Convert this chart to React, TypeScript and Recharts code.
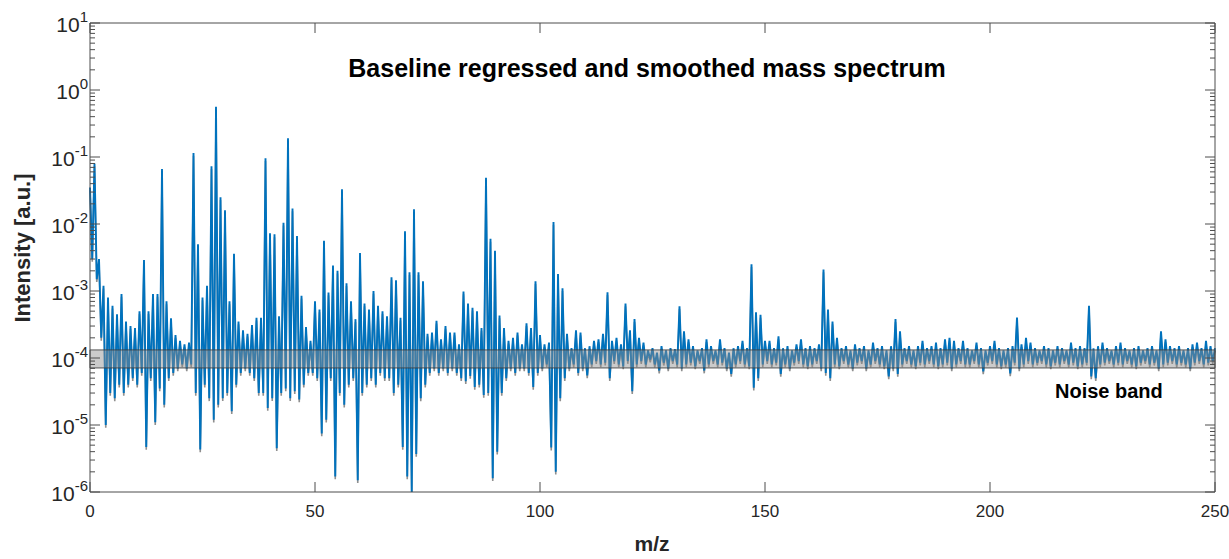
import React from 'react';
import { LineChart, Line, XAxis, YAxis, ReferenceArea } from 'recharts';

// m/z sampling step of the spectrum (one value every 0.5 m/z, from 0 to 250)
const mzStep = 0.5;

// Baseline regressed and smoothed spectrum intensities [a.u.]
const intensity: number[] = [
  3.5e-2, 3e-3, 8e-2, 1.5e-3, 3e-3, 2e-4, 1.2e-3, 1e-5, 8e-4, 3e-5,
  6e-4, 2.5e-5, 4.5e-4, 4e-5, 9e-4, 3e-5, 3.5e-4, 4e-5, 3e-4, 5e-5,
  2.8e-4, 4e-5, 5e-4, 6e-5, 2.9e-3, 4.7e-6, 5e-4, 5e-5, 9e-4, 1.1e-5,
  9e-4, 3.5e-5, 6.6e-2, 2e-5, 7e-4, 5e-5, 3.9e-4, 6e-5, 2.2e-4, 7e-5,
  1.8e-4, 8e-5, 1.6e-4, 7e-5, 1.7e-4, 8e-5, 1.15e-1, 3e-5, 5e-3, 4.3e-6,
  8e-4, 4e-5, 1.2e-3, 2.5e-5, 7.3e-2, 1.2e-5, 5.6e-1, 2e-5, 2.5e-2, 2.5e-5,
  1.6e-2, 3e-5, 7e-4, 1.6e-5, 3.6e-3, 4e-5, 3.5e-4, 6e-5, 2.6e-4, 7e-5,
  2.3e-4, 6e-5, 3.1e-4, 5e-5, 4e-4, 3e-5, 4e-4, 3e-5, 9.6e-2, 1.8e-5,
  7.3e-3, 2.5e-5, 7e-3, 4.5e-6, 4.2e-4, 3e-5, 1.04e-2, 3.5e-5, 1.9e-1, 2.5e-5,
  1.7e-2, 3.2e-5, 6.6e-3, 2.4e-5, 8.5e-4, 4e-5, 2.9e-4, 6e-5, 1.8e-4, 6e-5,
  7e-4, 5e-5, 5.3e-4, 7.5e-6, 5.6e-3, 1.2e-5, 9.5e-4, 5e-5, 2.4e-3, 1.7e-6,
  2e-3, 3e-5, 3.3e-2, 2e-5, 1.3e-3, 4e-5, 7e-4, 5e-5, 3.8e-4, 1.5e-6,
  3.7e-3, 3e-5, 6.5e-4, 4e-5, 5.3e-4, 5e-5, 1e-3, 4e-5, 6e-4, 6e-5,
  5e-4, 5e-5, 4.2e-4, 5e-5, 1.6e-3, 3e-5, 1.45e-3, 4e-5, 4e-4, 4.7e-6,
  7.8e-3, 1.7e-6, 1.9e-3, 1e-6, 1.66e-2, 3.7e-6, 1.9e-3, 2.5e-5, 1.4e-3, 4e-5,
  2.3e-4, 6e-5, 2.4e-4, 7e-5, 3.6e-4, 6e-5, 1.9e-4, 7e-5, 3e-4, 6e-5,
  2.4e-4, 7e-5, 2.4e-4, 6e-5, 1.6e-4, 5e-5, 9.8e-4, 4.5e-5, 6.5e-4, 5.4e-5,
  5.6e-4, 3.7e-5, 5e-4, 4e-5, 2.8e-4, 2.8e-5, 4.9e-2, 3e-5, 6e-3, 1.6e-6,
  4e-3, 4e-6, 4.3e-4, 3e-5, 2.8e-4, 5e-5, 1.8e-4, 7e-5, 2e-4, 6e-5,
  2.4e-4, 7e-5, 1.6e-4, 7e-5, 3.3e-4, 6e-5, 2.8e-4, 3.7e-5, 1.4e-3, 6e-5,
  2.2e-4, 7e-5, 1.6e-4, 8e-5, 1.7e-4, 4.6e-6, 1.07e-2, 2e-6, 1.8e-3, 2.5e-5,
  1.1e-3, 5e-5, 2.3e-4, 7e-5, 1.4e-4, 8e-5, 2.6e-4, 6e-5, 2.4e-4, 7e-5,
  1.4e-4, 5.5e-5, 1.5e-4, 8e-5, 1.8e-4, 9e-5, 1.9e-4, 8e-5, 2.3e-4, 8.5e-5,
  9.6e-4, 5e-5, 1.8e-4, 9e-5, 2e-4, 8e-5, 1.6e-4, 7.5e-5, 6.5e-4, 9e-5,
  2.6e-4, 3.2e-5, 3.8e-4, 8e-5, 2e-4, 9e-5, 1.7e-4, 8e-5, 1.3e-4, 9.5e-5,
  1.4e-4, 8e-5, 1.2e-4, 6.5e-5, 1.5e-4, 8.5e-5, 1.3e-4, 7e-5, 1.4e-4, 9e-5,
  1.35e-4, 8e-5, 5.9e-4, 7e-5, 2.5e-4, 8e-5, 1.9e-4, 8.5e-5, 1.5e-4, 7.5e-5,
  1.3e-4, 9e-5, 1.4e-4, 6.5e-5, 1.9e-4, 8e-5, 1.5e-4, 9e-5, 1.3e-4, 8e-5,
  1.9e-4, 8.5e-5, 1.4e-4, 7e-5, 1.2e-4, 5.8e-5, 1.4e-4, 8e-5, 1.5e-4, 9e-5,
  1.8e-4, 8e-5, 1.4e-4, 7.5e-5, 2.5e-3, 3.6e-5, 4.8e-4, 5e-5, 4.4e-4, 8e-5,
  1.8e-4, 9e-5, 1.8e-4, 8e-5, 1.4e-4, 8.5e-5, 2.1e-4, 5.8e-5, 1.4e-4, 8e-5,
  1.5e-4, 7e-5, 1.3e-4, 8.5e-5, 1.6e-4, 9e-5, 1.9e-4, 8e-5, 1.4e-4, 7.5e-5,
  1.5e-4, 8e-5, 1.4e-4, 9e-5, 1.6e-4, 7e-5, 2.1e-3, 6e-5, 5.3e-4, 5e-5,
  3.5e-4, 8e-5, 2e-4, 7.5e-5, 1.4e-4, 9e-5, 1.5e-4, 8e-5, 1.3e-4, 7e-5,
  1.6e-4, 8.5e-5, 1.4e-4, 9e-5, 1.5e-4, 7e-5, 1.3e-4, 8e-5, 1.7e-4, 9e-5,
  1.4e-4, 8e-5, 1.5e-4, 7.5e-5, 1.3e-4, 5.3e-5, 1.5e-4, 7e-5, 3.8e-4, 5.8e-5,
  2.5e-4, 8e-5, 1.4e-4, 9e-5, 1.5e-4, 8e-5, 1.3e-4, 7.5e-5, 1.5e-4, 8.5e-5,
  1.8e-4, 8e-5, 1.4e-4, 9e-5, 1.5e-4, 8e-5, 1.7e-4, 7.5e-5, 1.4e-4, 8e-5,
  1.9e-4, 8.5e-5, 2e-4, 7e-5, 1.8e-4, 8e-5, 1.4e-4, 9e-5, 1.8e-4, 8e-5,
  1.4e-4, 8e-5, 1.3e-4, 9e-5, 1.7e-4, 8e-5, 1.4e-4, 6.3e-5, 1.3e-4, 8.5e-5,
  1.5e-4, 9e-5, 1.8e-4, 8e-5, 1.4e-4, 7.5e-5, 1.3e-4, 8e-5, 1.4e-4, 5.9e-5,
  1.5e-4, 8.5e-5, 4e-4, 7e-5, 1.6e-4, 8e-5, 2e-4, 9e-5, 1.7e-4, 8e-5,
  1.4e-4, 8.5e-5, 1.3e-4, 9e-5, 1.5e-4, 8e-5, 1.4e-4, 7.5e-5, 1.3e-4, 8.5e-5,
  1.5e-4, 8e-5, 1.4e-4, 9e-5, 1.3e-4, 8e-5, 1.7e-4, 8.5e-5, 1.4e-4, 7.5e-5,
  1.5e-4, 8e-5, 1.4e-4, 8.5e-5, 6e-4, 5.3e-5, 1.4e-4, 5e-5, 1.5e-4, 8e-5,
  1.7e-4, 8.5e-5, 1.4e-4, 9e-5, 1.3e-4, 8e-5, 1.5e-4, 8.5e-5, 1.7e-4, 8e-5,
  1.4e-4, 9e-5, 1.3e-4, 8e-5, 1.4e-4, 7.5e-5, 1.5e-4, 8.5e-5, 1.3e-4, 9e-5,
  1.4e-4, 8e-5, 1.5e-4, 8.5e-5, 1.3e-4, 7e-5, 2.5e-4, 8e-5, 1.9e-4, 8.5e-5,
  1.5e-4, 9e-5, 1.4e-4, 8e-5, 1.5e-4, 8.5e-5, 1.3e-4, 8e-5, 1.4e-4, 7e-5,
  1.6e-4, 8.5e-5, 1.7e-4, 9e-5, 1.4e-4, 8e-5, 1.8e-4, 8.5e-5, 1.5e-4, 9e-5,
  1.4e-4,
];

// Noise band limits [a.u.]
const noiseBandLow = 7.1e-5;
const noiseBandHigh = 1.32e-4;

// Axis ticks
const xTicks = [0, 50, 100, 150, 200, 250];
const yDecadeExponents = [-6, -5, -4, -3, -2, -1, 0, 1];
const yMinorMultipliers = [2, 3, 4, 5, 6, 7, 8, 9];

// Texts
const titleText = 'Baseline regressed and smoothed mass spectrum';
const bandText = 'Noise band';
const xLabelText = 'm/z';
const yLabelText = 'Intensity [a.u.]';

const data = intensity.map((v, i) => ({ mz: i * mzStep, intensity: v }));

const yAllTicks: number[] = [];
yDecadeExponents.forEach((e, idx) => {
  yAllTicks.push(Math.pow(10, e));
  if (idx < yDecadeExponents.length - 1) {
    yMinorMultipliers.forEach((m) => yAllTicks.push(m * Math.pow(10, e)));
  }
});

const FONT = '"Liberation Sans", Arial, Helvetica, sans-serif';
const AXIS = '#4d4d4d';
const TEXT = '#262626';
const MAJOR = 10;
const MINOR = 5;

const isMajor = (v: number) => {
  const l = Math.log10(v);
  return Math.abs(l - Math.round(l)) < 1e-6;
};

const LeftTick = (props: any) => {
  const { x, y, payload } = props;
  const v = payload.value;
  const major = isMajor(v);
  const e = Math.round(Math.log10(v));
  return (
    <g>
      <line x1={x} x2={x + (major ? MAJOR : MINOR)} y1={y} y2={y} stroke={AXIS} strokeWidth={1} />
      {major && (
        <text x={x - 2} y={y + 9} textAnchor="end" fontSize={21} fill={TEXT} fontFamily={FONT}>
          <tspan>10</tspan>
          <tspan dy={-10} fontSize={15}>{String(e)}</tspan>
        </text>
      )}
    </g>
  );
};

const RightTick = (props: any) => {
  const { x, y, payload } = props;
  const major = isMajor(payload.value);
  return <line x1={x} x2={x - (major ? MAJOR : MINOR)} y1={y} y2={y} stroke={AXIS} strokeWidth={1} />;
};

const BottomTick = (props: any) => {
  const { x, y, payload } = props;
  return (
    <g>
      <line x1={x} x2={x} y1={y} y2={y - MAJOR} stroke={AXIS} strokeWidth={1} />
      <text x={x} y={y + 25} textAnchor="middle" fontSize={17} fill={TEXT} fontFamily={FONT}>
        {payload.value}
      </text>
    </g>
  );
};

const TopTick = (props: any) => {
  const { x, y } = props;
  return <line x1={x} x2={x} y1={y} y2={y + MAJOR} stroke={AXIS} strokeWidth={1} />;
};

export default function App() {
  return (
    <div style={{ position: 'absolute', left: 0, top: 0, width: 1229, height: 559, background: '#fff', fontFamily: FONT }}>
      <LineChart width={1229} height={559} data={data} margin={{ top: 22, right: 13, bottom: 37, left: 30 }}>
        <XAxis
          xAxisId="bottom"
          dataKey="mz"
          type="number"
          domain={[0, 250]}
          ticks={xTicks}
          orientation="bottom"
          height={30}
          tickSize={0}
          tickMargin={0}
          tickLine={false}
          axisLine={{ stroke: AXIS }}
          tick={<BottomTick />}
          interval={0}
        />
        <XAxis
          xAxisId="top"
          dataKey="mz"
          type="number"
          domain={[0, 250]}
          ticks={xTicks}
          orientation="top"
          height={1}
          tickSize={0}
          tickMargin={0}
          tickLine={false}
          axisLine={{ stroke: AXIS }}
          tick={<TopTick />}
          interval={0}
        />
        <YAxis
          yAxisId="left"
          scale="log"
          domain={[1e-6, 10]}
          allowDataOverflow
          ticks={yAllTicks}
          interval={0}
          width={60}
          tickSize={0}
          tickMargin={0}
          tickLine={false}
          axisLine={{ stroke: AXIS }}
          tick={<LeftTick />}
        />
        <YAxis
          yAxisId="right"
          orientation="right"
          scale="log"
          domain={[1e-6, 10]}
          allowDataOverflow
          ticks={yAllTicks}
          interval={0}
          width={1}
          tickSize={0}
          tickMargin={0}
          tickLine={false}
          axisLine={{ stroke: AXIS }}
          tick={<RightTick />}
        />
        <YAxis yAxisId="shadow" scale="log" domain={[1.1e-6, 11]} allowDataOverflow hide />
        <Line
          xAxisId="bottom"
          yAxisId="shadow"
          dataKey="intensity"
          type="linear"
          stroke="#8f8f8f"
          strokeWidth={1.6}
          dot={false}
          activeDot={false}
          isAnimationActive={false}
        />
        <Line
          xAxisId="bottom"
          yAxisId="left"
          dataKey="intensity"
          type="linear"
          stroke="#0072BD"
          strokeWidth={1.9}
          dot={false}
          activeDot={false}
          isAnimationActive={false}
        />
        <ReferenceArea
          xAxisId="bottom"
          yAxisId="left"
          x1={0}
          x2={250}
          y1={noiseBandLow}
          y2={noiseBandHigh}
          fill="#8c8c8c"
          fillOpacity={0.45}
          stroke="#3c3c3c"
          strokeOpacity={0.85}
          strokeWidth={1}
          zIndex={450}
          ifOverflow="visible"
        />
        <text x={647} y={77} textAnchor="middle" fontSize={25} fontWeight="bold" fill="#000" fontFamily={FONT}>
          {titleText}
        </text>
        <text x={1055} y={398} textAnchor="start" fontSize={20} fontWeight="bold" fill="#000" fontFamily={FONT}>
          {bandText}
        </text>
        <text x={652} y={551} textAnchor="middle" fontSize={21} fontWeight="bold" fill={TEXT} fontFamily={FONT}>
          {xLabelText}
        </text>
        <text
          x={30}
          y={248}
          textAnchor="middle"
          fontSize={22}
          fontWeight="bold"
          fill={TEXT}
          fontFamily={FONT}
          transform="rotate(-90 30 248)"
        >
          {yLabelText}
        </text>
      </LineChart>
    </div>
  );
}
